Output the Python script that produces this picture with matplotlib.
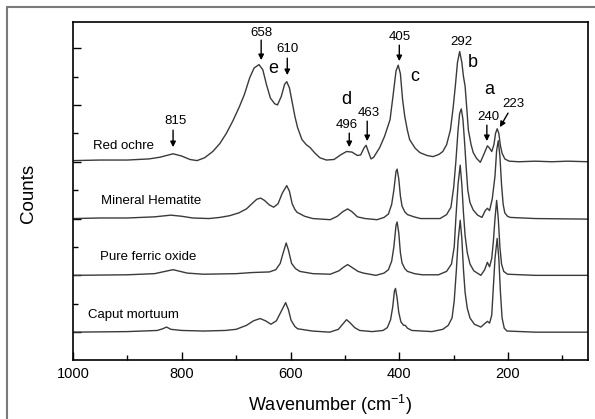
import matplotlib
matplotlib.use("Agg")
import matplotlib.pyplot as plt
from matplotlib.patches import Rectangle
from matplotlib.ticker import MultipleLocator

plt.rcParams['font.family'] = 'Liberation Sans'
plt.rcParams['mathtext.fontset'] = 'custom'
plt.rcParams['mathtext.rm'] = 'Liberation Sans'
plt.rcParams['mathtext.it'] = 'Liberation Sans:italic'

# ---------- spectra (counts in units of one baseline step) ----------
ochre_wn = [1000, 950, 900, 860, 840, 816, 800, 785, 772, 758,
            743, 730, 718, 706, 694, 685, 675, 667, 658, 651,
            644, 637, 629, 624, 617, 611, 607, 602, 597, 592,
            587, 579, 571, 564, 555, 546, 534, 520, 508, 497,
            487, 477, 471, 465, 461, 457, 452, 447, 436, 427,
            417, 411, 406, 402, 398, 394, 390, 385, 381, 371,
            362, 349, 338, 327, 320, 313, 306, 301, 297, 293,
            289, 285, 282, 279, 276, 273, 268, 264, 258, 251,
            245, 238, 234, 230, 226, 223, 220, 217, 214, 211,
            206, 198, 180, 150, 120, 90, 53]
ochre_counts = [0.02, 0.03, 0.03, 0.05, 0.08, 0.14, 0.10, 0.04, 0.02, 0.07,
                0.18, 0.32, 0.50, 0.72, 0.97, 1.18, 1.48, 1.65, 1.71, 1.62,
                1.35, 1.12, 1.02, 1.00, 1.15, 1.36, 1.41, 1.30, 1.05, 0.80,
                0.60, 0.39, 0.30, 0.25, 0.15, 0.07, 0.03, 0.04, 0.12, 0.18,
                0.17, 0.11, 0.12, 0.24, 0.29, 0.18, 0.05, 0.08, 0.25, 0.45,
                0.74, 1.20, 1.60, 1.70, 1.55, 1.10, 0.80, 0.55, 0.39, 0.24,
                0.16, 0.11, 0.09, 0.13, 0.18, 0.30, 0.56, 0.95, 1.33, 1.75,
                1.94, 1.75, 1.50, 1.33, 0.95, 0.56, 0.30, 0.16, 0.06, -0.01,
                0.12, 0.28, 0.24, 0.18, 0.30, 0.50, 0.58, 0.50, 0.28, 0.15,
                0.05, 0.01, 0.00, 0.01, 0.00, 0.01, 0.00]

hematite_wn = [1000, 950, 900, 850, 820, 800, 780, 750, 730, 712,
               695, 681, 670, 662, 655, 648, 639, 631, 623, 615,
               607, 602, 597, 592, 588, 574, 559, 527, 514, 504,
               495, 487, 477, 463, 441, 428, 420, 414, 410, 406,
               404, 401, 398, 395, 390, 385, 373, 361, 325, 313,
               305, 300, 296, 292, 289, 286, 283, 280, 277, 274,
               270, 264, 256, 248, 242, 238, 234, 229, 224, 221,
               218, 215, 212, 209, 206, 201, 196, 150, 53]
hematite_counts = [0.00, 0.01, 0.01, 0.03, 0.06, 0.04, 0.01, 0.00, 0.02, 0.05,
                   0.10, 0.17, 0.27, 0.34, 0.36, 0.32, 0.24, 0.20, 0.26, 0.45,
                   0.58, 0.48, 0.26, 0.16, 0.11, 0.04, 0.00, -0.02, 0.04, 0.12,
                   0.17, 0.12, 0.03, 0.00, -0.02, 0.02, 0.08, 0.25, 0.50, 0.83,
                   0.87, 0.70, 0.40, 0.22, 0.12, 0.07, 0.03, 0.00, 0.00, 0.07,
                   0.20, 0.55, 1.00, 1.55, 1.85, 1.93, 1.75, 1.35, 0.90, 0.50,
                   0.28, 0.15, 0.06, 0.02, 0.14, 0.18, 0.14, 0.35, 0.75, 1.20,
                   1.37, 1.10, 0.60, 0.25, 0.10, 0.04, 0.02, 0.00, -0.01]

ferric_wn = [1000, 900, 850, 816, 790, 760, 700, 670, 639, 627,
             619, 614, 608, 604, 598, 591, 583, 559, 527, 511,
             503, 495, 487, 476, 466, 443, 428, 420, 414, 410,
             406, 404, 401, 398, 395, 390, 385, 372, 358, 328,
             313, 304, 299, 296, 292, 288, 285, 282, 279, 275,
             270, 263, 250, 243, 238, 234, 230, 227, 224, 221,
             218, 215, 212, 208, 201, 150, 53]
ferric_counts = [0.00, 0.01, 0.03, 0.10, 0.04, 0.02, 0.03, 0.05, 0.06, 0.10,
                 0.21, 0.38, 0.57, 0.45, 0.21, 0.12, 0.07, 0.03, 0.02, 0.08,
                 0.14, 0.19, 0.14, 0.07, 0.04, 0.00, 0.04, 0.10, 0.25, 0.50,
                 0.88, 0.94, 0.75, 0.40, 0.22, 0.12, 0.07, 0.03, 0.01, 0.01,
                 0.07, 0.20, 0.50, 1.00, 1.60, 1.94, 1.60, 1.10, 0.70, 0.40,
                 0.20, 0.08, 0.00, 0.10, 0.23, 0.15, 0.30, 0.60, 1.00, 1.32,
                 1.00, 0.50, 0.20, 0.07, 0.02, 0.00, 0.00]

caput_wn = [1000, 900, 845, 835, 828, 820, 800, 760, 720, 700,
            681, 668, 656, 646, 636, 626, 618, 609, 604, 599,
            592, 587, 560, 528, 512, 505, 497, 490, 482, 473,
            450, 430, 422, 416, 412, 409, 407, 404, 401, 397,
            392, 389, 385, 377, 340, 320, 310, 303, 299, 295,
            292, 288, 285, 282, 279, 275, 270, 262, 250, 243,
            238, 234, 230, 227, 224, 220, 217, 214, 211, 207,
            202, 150, 53]
caput_counts = [0.00, 0.01, 0.03, 0.06, 0.09, 0.05, 0.03, 0.02, 0.03, 0.05,
                0.12, 0.20, 0.24, 0.20, 0.14, 0.20, 0.35, 0.52, 0.40, 0.21,
                0.10, 0.06, 0.02, 0.00, 0.05, 0.13, 0.22, 0.16, 0.08, 0.03,
                0.01, 0.03, 0.08, 0.22, 0.45, 0.72, 0.77, 0.60, 0.35, 0.18,
                0.12, 0.12, 0.07, 0.03, 0.01, 0.05, 0.12, 0.25, 0.55, 1.10,
                1.60, 1.97, 1.65, 1.10, 0.70, 0.42, 0.25, 0.14, 0.09, 0.15,
                0.19, 0.16, 0.30, 0.80, 1.30, 1.65, 1.30, 0.70, 0.25, 0.07,
                0.02, 0.00, 0.00]

sample_names = ["Red ochre", "Mineral Hematite", "Pure ferric oxide", "Caput mortuum"]
peak_labels = ["815", "658", "610", "496", "463", "405", "292", "240", "223"]
band_letters = ["e", "d", "c", "b", "a"]

# ---------- figure ----------
fig = plt.figure(figsize=(5.95, 4.19), dpi=100)
ax = fig.add_axes([73/595, 1 - 360/419, (588 - 73)/595, (360 - 22)/419])

spectra = [(ochre_wn, ochre_counts), (hematite_wn, hematite_counts),
           (ferric_wn, ferric_counts), (caput_wn, caput_counts)]
offsets = [3, 2, 1, 0]
for (wn, cts), off in zip(spectra, offsets):
    ax.plot(wn, [c + off for c in cts], color='#3a3a3a', lw=1.0)

# sample names
name_pos = [(963, 3.275), (948, 2.31), (950, 1.326), (972, 0.31)]
for name, (x, y) in zip(sample_names, name_pos):
    ax.text(x, y, name, fontsize=9.5, ha='left', va='center')

# peak position labels with arrows (None = no arrow)
label_pos = {
    "815": ((812, 3.715), (816, 3.556), (816, 3.257)),
    "658": ((654, 5.264), (654, 5.141), (654, 4.789)),
    "610": ((606, 4.982), (606, 4.824), (606, 4.525)),
    "496": ((496, 3.644), (492, 3.504), (492, 3.257)),
    "463": ((457, 3.856), (459, 3.715), (459, 3.363)),
    "405": ((400, 5.194), (400, 5.053), (400, 4.771)),
    "292": ((286, 5.106), None, None),
    "240": ((237, 3.785), (239, 3.644), (239, 3.363)),
    "223": ((191, 4.014), (200, 3.856), (215, 3.609)),
}
for lab in peak_labels:
    (tx, ty), start, end = label_pos[lab]
    ax.text(tx, ty, lab, fontsize=9.5, ha='center', va='center')
    if start is not None:
        ax.annotate("", xy=end, xytext=start,
                    arrowprops=dict(arrowstyle='-|>', color='black', lw=1.0,
                                    mutation_scale=8, shrinkA=0, shrinkB=0))

letter_pos = [(632, 4.648), (498, 4.102), (371, 4.507), (264, 4.754), (235, 4.278)]
for let, (x, y) in zip(band_letters, letter_pos):
    ax.text(x, y, let, fontsize=13, ha='center', va='center')

ax.set_xlim(1000, 53)
ax.set_ylim(-0.49, 5.46)
ax.xaxis.set_major_locator(MultipleLocator(200))
ax.xaxis.set_minor_locator(MultipleLocator(100))
ax.yaxis.set_major_locator(MultipleLocator(1))
ax.yaxis.set_minor_locator(MultipleLocator(0.5))
ax.tick_params(axis='both', which='both', direction='in', top=False, right=False)
ax.tick_params(axis='x', which='major', length=6, width=1, labelsize=10.5, pad=5)
ax.tick_params(axis='x', which='minor', length=3.5, width=1)
ax.tick_params(axis='y', which='major', length=6, width=1, labelleft=False)
ax.tick_params(axis='y', which='minor', length=3.5, width=1)
for sp in ax.spines.values():
    sp.set_linewidth(1.2)

fig.text(330/595, 1 - 405/419, 'Wavenumber (cm$^{-1}$)', fontsize=13,
         ha='center', va='center')
fig.text(28/595, 1 - 193/419, 'Counts', fontsize=13.5, rotation=90,
         ha='center', va='center')

# grey outer frame
fig.patches.append(Rectangle((7/595, -0.1), 1.2, 1.1 - 7/419, transform=fig.transFigure,
                             fill=False, edgecolor='#7a7a7a', lw=1.5))

fig.savefig("out.png", dpi=100)
